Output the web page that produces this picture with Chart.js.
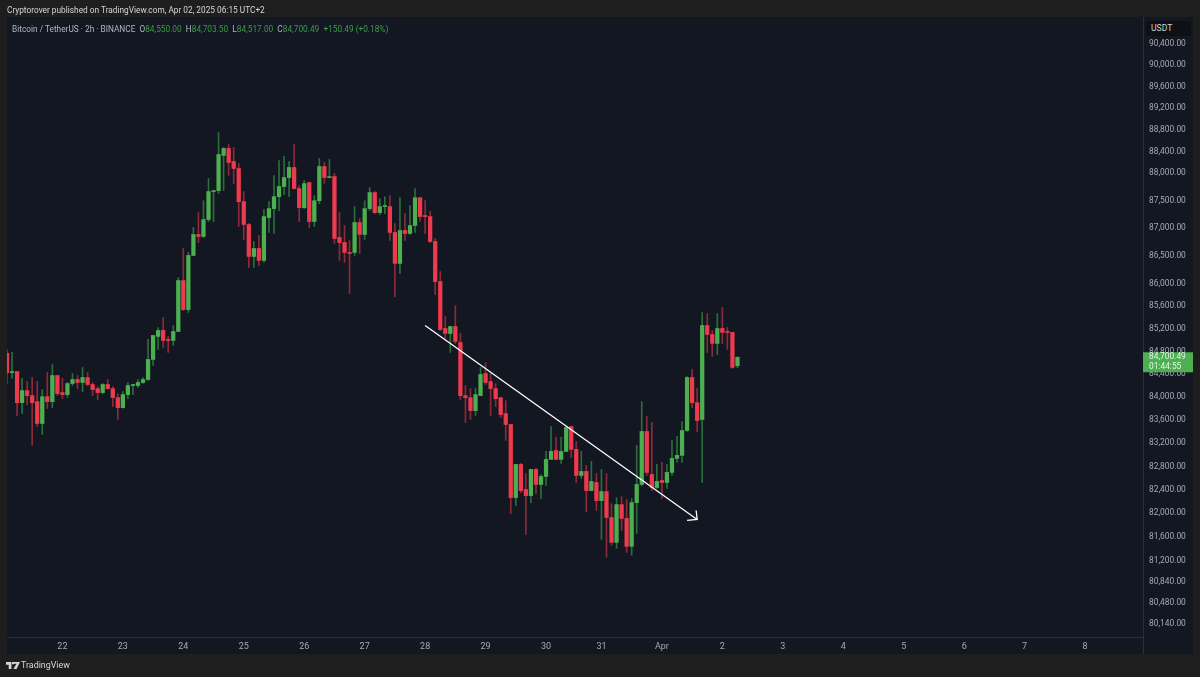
<!DOCTYPE html>
<html><head><meta charset="utf-8">
<style>
html,body{margin:0;padding:0;background:#1e1e1e;width:1200px;height:677px;overflow:hidden;font-family:Roboto,"Noto Sans",sans-serif}
#panel{position:absolute;left:7px;top:17px;width:1186px;height:637px;background:#131722}
#sep{position:absolute;left:1143px;top:17px;width:1px;height:637px;background:#2a2e39}
#c{position:absolute;left:0;top:0}
.t{position:absolute;white-space:nowrap}
#pub{left:7px;top:5px;font-size:8.3px;color:#d6d6d6}
#leg{left:12px;top:24px;font-size:8.3px;color:#b2b5be}
#leg b{font-weight:400;color:#3f9a4a}
#usdt{left:1146px;top:21px;width:40px;height:15px;line-height:15px;background:#0f1013;color:#d1d4dc;font-size:8.6px;padding-left:5px;border-radius:2px}
#tv{left:21px;top:660px;font-size:8.9px;color:#d6d6d6}
svg{position:absolute;left:6px;top:662px}
</style></head><body>
<div id="panel"></div>
<div id="sep"></div>
<canvas id="c" width="1200" height="677" style="width:1200px;height:677px"></canvas>
<div class="t" id="pub">Cryptorover published on TradingView.com, Apr 02, 2025 06:15 UTC+2</div>
<div class="t" id="leg">Bitcoin / TetherUS · 2h · BINANCE &nbsp;O<b>84,550.00</b> &nbsp;H<b>84,703.50</b> &nbsp;L<b>84,517.00</b> &nbsp;C<b>84,700.49</b> &nbsp;<b>+150.49 (+0.18%)</b></div>
<div class="t" id="usdt">USDT</div>
<svg width="14" height="8" viewBox="0 0 36 20"><path fill="#d6d6d6" d="M0 0h14v18H7V7H0zM18 0h18l-9 18h-8l8-14h-9z"/><circle cx="18" cy="3" r="3" fill="#d6d6d6"/></svg>
<div class="t" id="tv">TradingView</div>
<script src="https://cdn.jsdelivr.net/npm/chart.js@4"></script>
<script>
const opens=[84770,84430,84450,83905,84116,84028,83923,83543,84010,83923,84380,84081,84046,84239,84310,84257,84345,84222,84151,84081,84222,84151,83993,83819,84046,84204,84204,84257,84310,84662,85067,85173,85015,84997,85155,86061,85543,86510,86888,86852,87158,87666,87684,88326,88455,88216,88087,87482,87068,86492,86636,86421,87194,87356,87573,87758,87922,88106,87721,87374,87830,87122,87500,88124,87922,87940,86834,86744,86564,86564,87104,86888,87356,87647,87284,87392,87392,86924,86367,86960,86906,87050,87555,87230,87212,86762,86043,85208,85120,85243,84961,84028,83993,83767,84028,84415,84274,84151,83993,83715,83526,82267,82836,82405,82301,82750,82491,82629,82922,83077,82922,83060,83491,83095,82646,82715,82387,82525,82215,82370,81928,81505,82147,81911,81438,82181,82491,83405,82663,82439,82560,82525,82698,82939,82991,83422,84345,83905,83612,85261,85102,84944,85208,85155,85138,84550];
const highs=[84840,84785,84450,84330,84274,84345,84274,84134,84433,84574,84380,84327,84257,84415,84380,84521,84433,84257,84186,84239,84310,84186,84063,84098,84257,84222,84310,84345,85014,85085,85226,85402,85067,85261,86115,86636,86564,87014,87284,87500,87904,87684,88748,88473,88528,88473,88179,87666,87086,86762,86870,87338,87482,87959,88234,88308,88216,88528,87775,87867,87830,87592,88271,88197,88252,87996,87284,87050,86780,87392,87176,87500,87739,87666,87537,87573,87592,87086,87555,87266,87410,87721,87555,87500,87302,86816,86223,85419,85243,85613,85120,84204,84151,84151,84521,84609,84415,84239,83993,83940,83526,82836,82853,82680,82750,82767,82663,83060,83491,83302,83302,83491,83491,83233,83060,82819,82888,82680,82750,82680,82164,82267,82284,82232,82250,83164,83923,83664,83560,82836,82870,82836,83250,83319,83578,84362,84486,84151,85490,85472,85173,85472,85578,85226,85138,84703.5];
const lows=[84240,84327,83680,83715,83871,83164,83491,83353,83802,83819,84028,83975,83993,84204,84151,84098,84204,84028,83958,84063,84140,83836,83612,83810,83975,84046,84169,84239,84292,84556,84838,84873,84785,84909,85155,85525,85490,86510,86744,86834,87122,87122,87629,87684,87959,87812,87032,86798,86295,86295,86331,86385,86924,86906,87320,87610,87573,87710,87122,87356,87014,87032,87446,87812,87915,86726,86421,86385,85828,86510,86546,86798,87320,87266,87248,87266,86780,85773,86187,86780,86888,86924,87122,86906,86744,85809,85173,85032,84785,84944,83958,83560,83612,83681,84028,84222,83681,83836,83646,83250,81995,82130,82353,81640,82180,82335,82250,82474,82922,82920,82853,83060,82957,82525,82594,82029,82387,82046,81556,81252,81455,81404,81708,81336,81286,81657,82474,82646,82387,82422,82250,82422,82646,82870,82870,83405,83819,83405,82525,84785,84715,84750,84944,84838,84504,84517];
const closes=[84430,84450,83905,84116,84028,83905,83543,84010,83923,84380,84063,84046,84239,84310,84257,84345,84222,84134,84081,84222,84151,83993,83819,84046,84204,84222,84257,84310,84662,85085,85173,84997,84997,85155,86061,85543,86510,86888,86852,87158,87666,87684,88344,88455,88197,88087,87482,87068,86492,86636,86421,87212,87356,87573,87758,87922,88106,87721,87374,87812,87122,87500,88124,87922,87940,86816,86744,86564,86546,87104,86888,87356,87647,87284,87392,87410,86924,86367,86960,86906,87050,87555,87212,87212,86762,86043,85190,85120,85243,84979,84028,83993,83767,84046,84398,84257,84151,83975,83698,83526,82267,82836,82387,82301,82750,82491,82629,82922,83060,82922,83060,83474,83095,82646,82715,82387,82543,82215,82370,81928,81505,82147,81911,81438,82181,82491,83405,82698,82439,82543,82525,82698,82939,82991,83422,84345,83905,83595,85261,85102,84944,85208,85138,85138,84521,84700.49];
const dayTickIndex=[11,23,35,47,59,71,83,95,107,118,130,142,154,166,178,190,202,214];
const dayTickLabels=['22','23','24','25','26','27','28','29','30','31','Apr','2','3','4','5','6','7','8'];
const priceTicks=[90400,90000,89600,89200,88800,88400,88000,87500,87000,86500,86000,85600,85200,84800,84400,84000,83600,83200,82800,82400,82000,81600,81200,80840,80480,80140];
const trendIndex=[83.0,137.0];
const trendPrice=[85261,81894];
const arrowIndex=[136.8,137.0,135.0];
const arrowPrice=[82046,81894,81877];
const lastPrice=84700.49;
const countdown='01:44:55';
const UP='#4caf50',DOWN='#ef3a4e',UPW='#2a6e3a',DOWNW='#8d2a3a';
const isUp=i=>closes[i]>=opens[i];
const fmt=v=>v.toLocaleString('en-US',{minimumFractionDigits:2,maximumFractionDigits:2});
const idx=opens.map((_,i)=>i);
const lastLabel={id:'lastLabel',afterDraw(c){
  const y=c.scales.y.getPixelForValue(lastPrice),g=c.ctx;
  g.save();g.fillStyle=UP;g.fillRect(1143,y-5,50,20);
  g.fillStyle='#e9f5ea';g.font='8.4px Roboto';g.textAlign='left';g.textBaseline='middle';
  g.fillText(fmt(lastPrice),1149,y);g.fillText(countdown,1149,y+10);g.restore();
}};
new Chart(document.getElementById('c'),{
  type:'bar',
  data:{datasets:[
    {label:'wick',order:3,barThickness:1,grouped:false,
     data:idx.map(i=>({x:i,y:[lows[i],highs[i]]})),
     backgroundColor:idx.map(i=>isUp(i)?UPW:DOWNW)},
    {label:'body',order:2,barThickness:3.6,grouped:false,
     data:idx.map(i=>({x:i,y:[Math.min(opens[i],closes[i]),Math.max(opens[i],closes[i])]})),
     backgroundColor:idx.map(i=>isUp(i)?UP:DOWN),minBarLength:1},
    {type:'line',label:'trend',order:1,data:trendIndex.map((x,i)=>({x,y:trendPrice[i]})),
     borderColor:'#fff',borderWidth:1.3,pointRadius:0,tension:0},
    {type:'line',label:'arrow',order:1,data:arrowIndex.map((x,i)=>({x,y:arrowPrice[i]})),
     borderColor:'#fff',borderWidth:1.3,pointRadius:0,tension:0}
  ]},
  options:{
    responsive:false,animation:false,devicePixelRatio:1,
    layout:{padding:{left:7,top:18,right:8,bottom:22}},
    plugins:{legend:{display:false},tooltip:{enabled:false},title:{display:false}},
    scales:{
      x:{type:'linear',min:0,max:225.7,offset:false,
        grid:{display:false,drawTicks:false},
        border:{color:'#2a2e39'},
        afterBuildTicks(s){s.ticks=dayTickIndex.map(value=>({value}));},
        afterFit(s){s.height=18;},
        ticks:{maxRotation:0,autoSkip:false,padding:4,color:'#a6a9b2',font:{family:'Roboto',size:9},
          callback(v){return dayTickLabels[dayTickIndex.indexOf(v)];}}},
      y:{type:'logarithmic',position:'right',min:79919,max:90884,
        grid:{display:false,drawTicks:false},
        border:{display:false},
        afterBuildTicks(s){s.ticks=priceTicks.map(value=>({value}));},
        afterFit(s){s.width=48;},
        ticks:{autoSkip:false,padding:5,color:'#a6a9b2',font:{family:'Roboto',size:8.4},
          callback(v){return fmt(v);}}}
    }
  },
  plugins:[lastLabel]
});
</script>
</body></html>
